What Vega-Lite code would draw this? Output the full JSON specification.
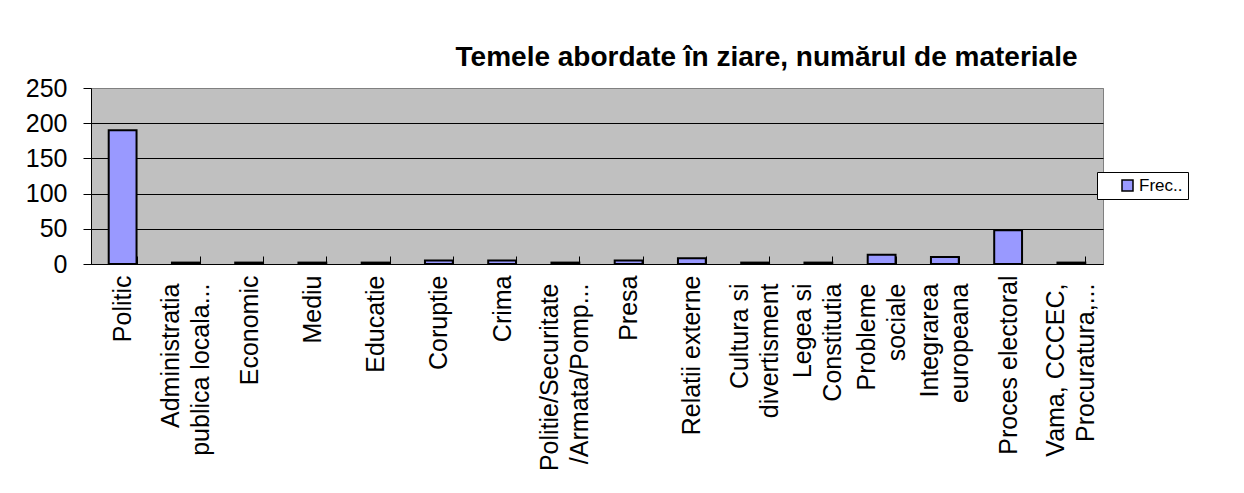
{
  "$schema": "https://vega.github.io/schema/vega-lite/v6.json",
  "width": 1012,
  "height": 176,
  "autosize": "none",
  "padding": {"left": 91, "top": 88, "right": 141, "bottom": 229},
  "background": "white",
  "title": {
    "text": "Temele abordate în ziare, numărul de materiale",
    "anchor": "end",
    "dx": -111,
    "offset": 4,
    "fontSize": 28,
    "font": "Liberation Sans",
    "fontWeight": "bold",
    "color": "black"
  },
  "data": {
    "values": [
      {"tema": "Politic", "n": 190, "serie": "Frec.."},
      {"tema": "Administratia|publica locala...", "n": 2, "serie": "Frec.."},
      {"tema": "Economic", "n": 2, "serie": "Frec.."},
      {"tema": "Mediu", "n": 2, "serie": "Frec.."},
      {"tema": "Educatie", "n": 2, "serie": "Frec.."},
      {"tema": "Coruptie", "n": 5, "serie": "Frec.."},
      {"tema": "Crima", "n": 5, "serie": "Frec.."},
      {"tema": "Politie/Securitate|/Armata/Pomp...", "n": 2, "serie": "Frec.."},
      {"tema": "Presa", "n": 5, "serie": "Frec.."},
      {"tema": "Relatii externe", "n": 8, "serie": "Frec.."},
      {"tema": "Cultura si|divertisment", "n": 2, "serie": "Frec.."},
      {"tema": "Legea si|Constitutia", "n": 2, "serie": "Frec.."},
      {"tema": "Probleme|sociale", "n": 13, "serie": "Frec.."},
      {"tema": "Integrarea|europeana", "n": 10, "serie": "Frec.."},
      {"tema": "Proces electoral", "n": 48, "serie": "Frec.."},
      {"tema": "Vama, CCCEC,|Procuratura,...", "n": 2, "serie": "Frec.."}
    ]
  },
  "encoding": {
    "y": {
      "field": "n",
      "type": "quantitative",
      "scale": {"domain": [0, 250], "nice": false},
      "axis": {
        "title": null,
        "values": [0, 50, 100, 150, 200, 250],
        "labelFont": "Liberation Sans",
        "labelFontSize": 25,
        "labelColor": "black",
        "labelPadding": 16,
        "tickSize": 8,
        "tickColor": "black",
        "domainColor": "black",
        "grid": true,
        "gridColor": {"condition": {"test": "datum.value == 250", "value": "#808080"}, "value": "black"},
        "gridWidth": 1,
        "gridOpacity": 1
      }
    }
  },
  "layer": [
    {
      "mark": {"type": "bar", "stroke": "black", "strokeWidth": 2},
      "encoding": {
        "x": {
          "field": "tema",
          "type": "nominal",
          "sort": null,
          "scale": {"paddingInner": 0.56, "paddingOuter": 0.28},
          "axis": {
            "title": null,
            "orient": "bottom",
            "labelAngle": -90,
            "labelExpr": "indexof(datum.label, '|') >= 0 ? '' : datum.label",
            "labelFont": "Liberation Sans",
            "labelFontSize": 25,
            "labelColor": "black",
            "labelLimit": 400,
            "labelPadding": 19,
            "tickBand": "extent",
            "tickSize": -8,
            "tickColor": "black",
            "domainColor": "black",
            "domainWidth": 1
          }
        },
        "fill": {
          "field": "serie",
          "type": "nominal",
          "scale": {"range": ["#9999FF"]},
          "legend": {
            "title": null,
            "orient": "none",
            "legendX": 1006,
            "legendY": 84,
            "strokeColor": "black",
            "fillColor": "white",
            "padding": 5,
            "symbolOffset": 17,
            "symbolType": "square",
            "symbolSize": 121,
            "symbolStrokeColor": "black",
            "symbolStrokeWidth": 1.5,
            "labelFont": "Liberation Sans",
            "labelFontSize": 17,
            "labelColor": "black",
            "labelOffset": 3
          }
        }
      }
    },
    {
      "mark": {"type": "bar", "opacity": 0, "strokeWidth": 0},
      "encoding": {
        "x": {
          "field": "tema",
          "type": "nominal",
          "sort": null,
          "axis": {
            "title": null,
            "orient": "bottom",
            "labelAngle": -90,
            "labelExpr": "indexof(datum.label, '|') >= 0 ? split(datum.label, '|') : ''",
            "labelFont": "Liberation Sans",
            "labelFontSize": 25,
            "labelColor": "black",
            "labelLimit": 400,
            "labelLineHeight": 30,
            "labelPadding": 19,
            "labelOffset": -15,
            "ticks": false,
            "domain": false
          }
        }
      }
    }
  ],
  "resolve": {"axis": {"x": "independent"}},
  "config": {
    "view": {"fill": "#C0C0C0", "stroke": "#808080"},
    "font": "Liberation Sans"
  }
}
